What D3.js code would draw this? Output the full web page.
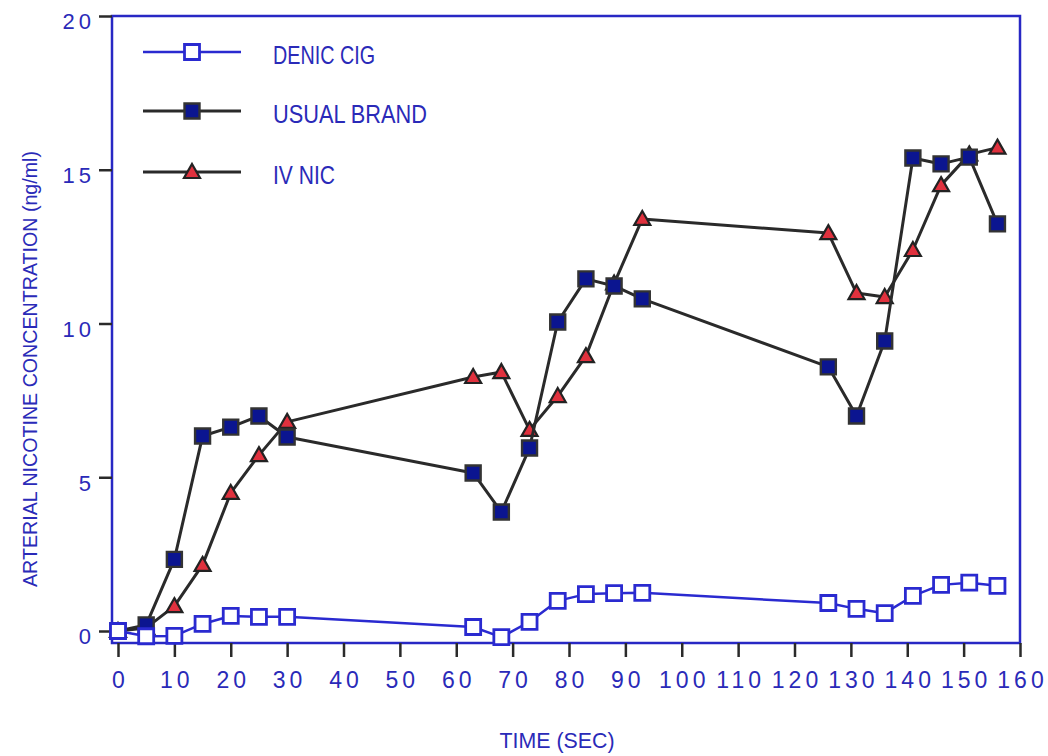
<!DOCTYPE html>
<html>
<head>
<meta charset="utf-8">
<script src="https://cdn.jsdelivr.net/npm/d3@7"></script>
<style>
  html, body { margin: 0; padding: 0; background: #ffffff; }
  svg { display: block; }
  text { font-family: "Liberation Sans", Arial, Helvetica, sans-serif; }
</style>
</head>
<body>
<svg id="chart" width="1048" height="756"></svg>
<script>
// Sampling times (seconds)
const times = [0, 5, 10, 15, 20, 25, 30, 63, 68, 73, 78, 83, 88, 93, 126, 131, 136, 141, 146, 151, 156];

// Arterial nicotine concentration (ng/ml) per condition
const denicCig   = [0, -0.17, -0.16, 0.23, 0.49, 0.46, 0.46, 0.13, -0.2, 0.3, 0.98, 1.2, 1.23, 1.24, 0.91, 0.72, 0.58, 1.14, 1.5, 1.57, 1.47];
const usualBrand = [0, 0.2, 2.33, 6.34, 6.63, 6.99, 6.31, 5.14, 3.87, 5.95, 10.05, 11.45, 11.22, 10.8, 8.59, 6.99, 9.43, 15.38, 15.19, 15.41, 13.24];
const ivNic      = [0, 0.1, 0.81, 2.15, 4.49, 5.72, 6.8, 8.26, 8.42, 6.54, 7.64, 8.94, 11.3, 13.4, 12.94, 10.99, 10.86, 12.39, 14.5, 15.5, 15.72];

const seriesNames = ["DENIC CIG", "USUAL BRAND", "IV NIC"];
const xTicks = [0, 10, 20, 30, 40, 50, 60, 70, 80, 90, 100, 110, 120, 130, 140, 150, 160];
const yTicks = [0, 5, 10, 15, 20];
const xTitle = "TIME (SEC)";
const yTitle = "ARTERIAL NICOTINE CONCENTRATION (ng/ml)";

const BLUE_TEXT = "#2a2ab8";
const FRAME = "#2828c4";
const TICK = "#2a2a2a";

const svg = d3.select("#chart");

const x = d3.scaleLinear().domain([0, 160]).range([118, 1020]);
const y = d3.scaleLinear().domain([0, 20]).range([631, 16]);

const frameLeft = 112, frameTop = y(20), frameRight = x(160), frameBottom = 643;

// Plot frame
svg.append("rect")
  .attr("x", frameLeft).attr("y", frameTop)
  .attr("width", frameRight - frameLeft).attr("height", frameBottom - frameTop)
  .attr("fill", "none").attr("stroke", FRAME).attr("stroke-width", 2.5);

// Y axis
const yAxis = svg.append("g")
  .attr("transform", `translate(${frameLeft},0)`)
  .call(d3.axisLeft(y).tickValues(yTicks).tickSize(13).tickPadding(0).tickFormat(d3.format("d")));
yAxis.select(".domain").remove();
yAxis.selectAll(".tick line").attr("stroke", TICK).attr("stroke-width", 2.5);
yAxis.selectAll(".tick text")
  .attr("x", -17).attr("dy", "0.72em").attr("y", -3)
  .attr("fill", BLUE_TEXT).attr("font-size", 22).attr("letter-spacing", 4)
  .attr("font-family", "Liberation Sans, Arial, sans-serif");

// X axis
const xAxis = svg.append("g")
  .attr("transform", `translate(0,${frameBottom})`)
  .call(d3.axisBottom(x).tickValues(xTicks).tickSize(14).tickPadding(0).tickFormat(d3.format("d")));
xAxis.select(".domain").remove();
xAxis.selectAll(".tick line").attr("stroke", TICK).attr("stroke-width", 2.5);
xAxis.selectAll(".tick text")
  .attr("y", 45).attr("dy", 0).attr("dx", 2)
  .attr("fill", BLUE_TEXT).attr("font-size", 23).attr("letter-spacing", 4)
  .attr("font-family", "Liberation Sans, Arial, sans-serif");

// Axis titles
svg.append("text")
  .attr("x", 557).attr("y", 748)
  .attr("text-anchor", "middle")
  .attr("fill", BLUE_TEXT).attr("font-size", 22)
  .attr("textLength", 115).attr("lengthAdjust", "spacingAndGlyphs")
  .text(xTitle);

svg.append("text")
  .attr("transform", "translate(37,369) rotate(-90)")
  .attr("text-anchor", "middle")
  .attr("fill", BLUE_TEXT).attr("font-size", 21)
  .attr("textLength", 436).attr("lengthAdjust", "spacingAndGlyphs")
  .text(yTitle);

// Marker shapes
function squarePath(s) {
  const h = s / 2;
  return `M${-h},${-h}H${h}V${h}H${-h}Z`;
}
function trianglePath(w, h) {
  return `M0,${-h / 2 - 1}L${w / 2},${h / 2 - 1}L${-w / 2},${h / 2 - 1}Z`;
}

const styles = {
  "DENIC CIG":   { line: "#2a2ad0", lw: 2.5, path: squarePath(15), fill: "#ffffff", stroke: "#2a2ad0", sw: 2.8 },
  "USUAL BRAND": { line: "#2a2a2a", lw: 3,   path: squarePath(15), fill: "#0b1590", stroke: "#333333", sw: 2.4 },
  "IV NIC":      { line: "#2a2a2a", lw: 3,   path: trianglePath(16, 14), fill: "#e0313e", stroke: "#222222", sw: 2.2 }
};

const seriesData = {
  "DENIC CIG": denicCig,
  "USUAL BRAND": usualBrand,
  "IV NIC": ivNic
};

const line = d3.line().x(d => x(d[0])).y(d => y(d[1]));

// Draw order: IV NIC beneath, then USUAL BRAND, then DENIC CIG on top
["IV NIC", "USUAL BRAND", "DENIC CIG"].forEach(name => {
  const st = styles[name];
  const pts = times.map((t, i) => [t, seriesData[name][i]]);
  const g = svg.append("g");
  g.append("path")
    .attr("d", line(pts))
    .attr("fill", "none")
    .attr("stroke", st.line)
    .attr("stroke-width", st.lw)
    .attr("stroke-linejoin", "round");
  g.selectAll("path.mark")
    .data(pts)
    .join("path")
    .attr("class", "mark")
    .attr("transform", d => `translate(${x(d[0])},${y(d[1])})`)
    .attr("d", st.path)
    .attr("fill", st.fill)
    .attr("stroke", st.stroke)
    .attr("stroke-width", st.sw);
});

// Legend
const legendY = [52, 111, 172];
const legendTextW = [102, 154, 62];
seriesNames.forEach((name, i) => {
  const st = styles[name];
  const g = svg.append("g").attr("transform", `translate(0,${legendY[i]})`);
  g.append("line")
    .attr("x1", 143).attr("x2", 241).attr("y1", 0).attr("y2", 0)
    .attr("stroke", st.line).attr("stroke-width", st.lw);
  g.append("path")
    .attr("transform", "translate(192,0)")
    .attr("d", st.path)
    .attr("fill", st.fill).attr("stroke", st.stroke).attr("stroke-width", st.sw);
  g.append("text")
    .attr("x", 273).attr("y", 12)
    .attr("fill", BLUE_TEXT).attr("font-size", 25)
    .attr("textLength", legendTextW[i]).attr("lengthAdjust", "spacingAndGlyphs")
    .text(name);
});
</script>
</body>
</html>
